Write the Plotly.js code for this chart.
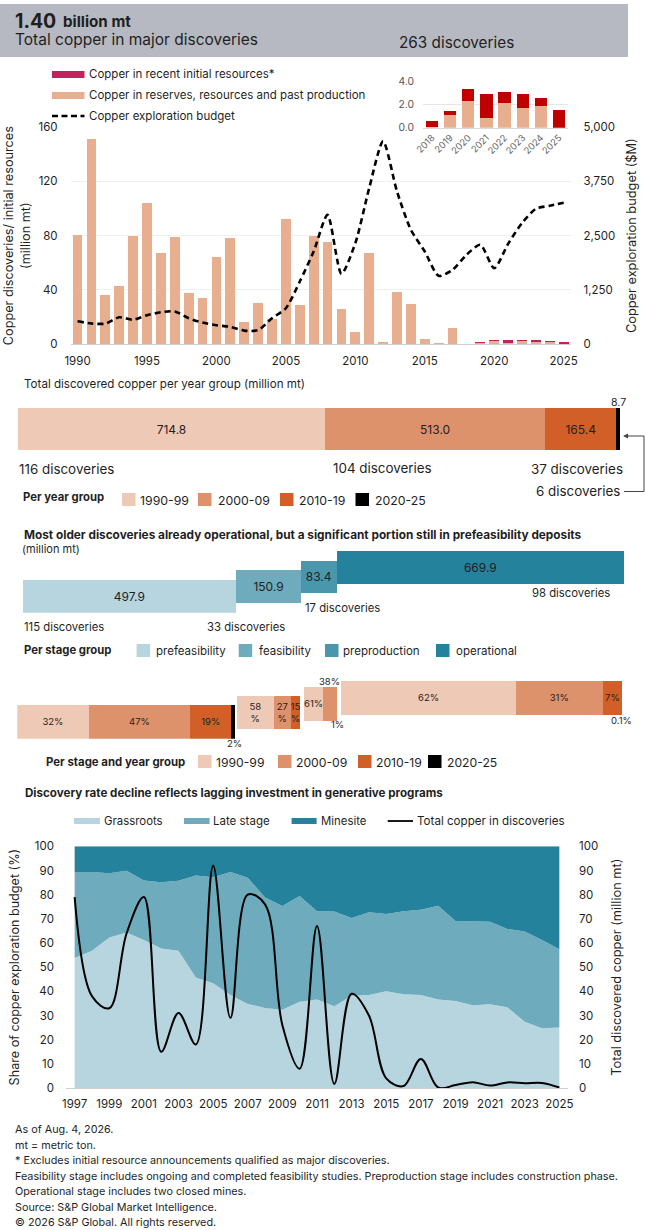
<!DOCTYPE html>
<html><head><meta charset="utf-8">
<script src="https://cdn.plot.ly/plotly-3.0.1.min.js"></script>
<style>html,body{margin:0;padding:0;background:#fff}#c{width:646px;height:1230px}</style></head>
<body><div id="c"></div>
<script>
const years=[1990,1991,1992,1993,1994,1995,1996,1997,1998,1999,2000,2001,2002,2003,2004,2005,2006,2007,2008,2009,2010,2011,2012,2013,2014,2015,2016,2017,2018,2019,2020,2021,2022,2023,2024,2025];
const reserves=[80.6,151,36.4,43.2,80,104,67.3,79,38,34,64,78.6,16.5,30.7,19,92,29,80,75.4,26.3,9,67.3,1.7,38.6,29.7,4,0.8,12,0.05,1.1,2.25,0.85,2.1,1.7,1.9,0];
const initial=[0,0,0,0,0,0,0,0,0,0,0,0,0,0,0,0,0,0,0,0,0,0,0,0,0,0,0,0,0.5,0.3,1.05,2.0,1.0,1.2,0.65,1.55];
const budget=[530,480,476,622,565,670,737,755,600,500,440,400,315,325,600,830,1444,2135,2980,1620,2327,3595,4670,3518,2635,2135,1575,1713,2058,2289,1751,2312,2788,3118,3187,3257];
const insetYears=['2018','2019','2020','2021','2022','2023','2024','2025'];
const groupNames=['1990-99','2000-09','2010-19','2020-25'];
const groupTotals=[714.8,513.0,165.4,8.7];
const groupColors=['#EEC9B6','#DE926C','#D15F27','#000000'];
const stageNames=['prefeasibility','feasibility','preproduction','operational'];
const stageTotals=[497.9,150.9,83.4,669.9];
const stageColors=['#B7D5DE','#6DABBD','#4A97AD','#25829D'];
const stageExtent=[507,147.4,77.4,653.5];
const stageGap=[3.3,8.6,9.8];
const stageRise=[0,9.5,18.15,24];
const share1990=[32.7,58.4,58.6,62];
const share2000=[46.6,26.7,40.4,31];
const share2010=[18.8,14.9,0,6.9];
const share2020=[1.9,0,1,0.1];
const label1990=['32%','58<br>%','61%','62%'];
const label2000=['47%','27<br>%','','31%'];
const label2010=['19%','15<br>%','','7%'];
const areaYears=[1997,1998,1999,2000,2001,2002,2003,2004,2005,2006,2007,2008,2009,2010,2011,2012,2013,2014,2015,2016,2017,2018,2019,2020,2021,2022,2023,2024,2025];
const grassroots=[53.8,56.8,62.3,64.3,61.2,57.7,56.8,45.7,43.3,38.5,34.8,33.1,32.4,35.7,36.6,33.8,38.2,38.5,40,38.8,38.5,36.6,36,34.2,34.6,33.4,27.4,24.7,25];
const lateStage=[35.6,32.6,26.5,25.6,24.6,27.4,28.9,42.2,43.9,50.9,52.2,45.7,42.9,43.7,36.5,39.2,32.1,34.2,32,34.3,35.3,38.8,33.1,34.9,34.2,32.4,37.3,36.5,32.4];
const minesite=[10.6,10.6,11.2,10.1,14.2,14.9,14.3,12.1,12.8,10.6,13,21.2,24.7,20.6,26.9,27,29.7,27.3,28,26.9,26.2,24.6,30.9,30.9,31.2,34.2,35.3,38.8,42.6];
const totalCopper=[79,38,33,64,79,15,31,18,92,29,80,76,26,8,67,1.7,39,30,4,0.8,12,0.2,1.2,2.4,1,2.3,2,2.1,0.2];

const F='Inter, Arial, sans-serif', W=646, H=1230, INK='#1f1f1f';
const px=x=>x/W, py=y=>1-y/H;
const dom=(a,b)=>[a/W,b/W], vdom=(top,bot)=>[1-bot/H,1-top/H];
const ann=[], shp=[];
function T(text,x,y,size,o={}){ann.push({text,x:px(x),y:py(y),xref:'paper',yref:'paper',xanchor:o.anchor||'left',yanchor:'middle',showarrow:false,borderpad:0,align:o.align||'left',font:{family:F,size,color:o.color||INK}});}
function box(x0,y0,x1,y1,color){shp.push({type:'rect',xref:'paper',yref:'paper',x0:px(x0),x1:px(x1),y0:py(y0),y1:py(y1),fillcolor:color,line:{width:0},layer:'above'});}
function seg(x0,y0,x1,y1,color,w,dash){shp.push({type:'line',xref:'paper',yref:'paper',x0:px(x0),x1:px(x1),y0:py(y0),y1:py(y1),line:{color,width:w,dash:dash||'solid'},layer:'above'});}

// header
shp.push({type:'rect',xref:'paper',yref:'paper',x0:0,x1:px(628),y0:py(57),y1:py(4),fillcolor:'#B6B9C1',line:{width:0},layer:'below'});
T('<b>1.40</b>',13.5,20.5,19.5); T('<b>billion mt</b>',62,21.5,15.2);
T('Total copper in major discoveries',14,40,15.5); T('263 discoveries',397.5,42.5,15.3);
// top legend
box(52,71,84.5,78,'#C2215B'); T('Copper in recent initial resources*',87.5,74,11.5);
box(52,92,84.5,99,'#E8AE90'); T('Copper in reserves, resources and past production',87.5,95,11.5);
seg(52,116,84.5,116,'#000',2.4,'6px,3.5px'); T('Copper exploration budget',87.5,116,11.5);
// year group
T('Total discovered copper per year group (million mt)',23,384,11.6);
T('116 discoveries',17.5,469,13.4); T('104 discoveries',331.5,468,13.4); T('37 discoveries',529.5,469,13.4); T('6 discoveries',534.5,491,13.4);
T('8.7',618,402,10.5,{anchor:'center'});
seg(624,491.5,644,491.5,'#444',1); seg(644,491.5,644,436,'#444',1); seg(644,436,628,436,'#444',1);
ann.push({x:px(623),y:py(436),xref:'paper',yref:'paper',ax:7,ay:0,text:'',showarrow:true,arrowhead:2,arrowsize:1,arrowwidth:1,arrowcolor:'#444'});
T('<b>Per year group</b>',22,497,11.3);
[[122,138.5],[198,216.5],[280,297.5],[355.5,373.5]].forEach((p,i)=>{box(p[0],493,p[0]+13.5,506,groupColors[i]);T(groupNames[i],p[1],500.5,12.3);});
// stage
T('<b>Most older discoveries already operational, but a significant portion still in prefeasibility deposits</b>',23,535,11.8);
T('(million mt)',21,549,11);
T('115 discoveries',23,626.7,11.3); T('33 discoveries',205.5,627,11.3); T('17 discoveries',303.5,607.7,11.3); T('98 discoveries',530.5,592.7,11.3);
T('<b>Per stage group</b>',22.6,650,11.3);
[[136.6,155],[238.7,258.3],[325,342.3],[436,454.5]].forEach((p,i)=>{box(p[0],644,p[0]+13.5,657,stageColors[i]);T(stageNames[i],p[1],651,11.5);});
// stage-year
T('<b>Per stage and year group</b>',45,762,11.4);
[[198,214.5],[278,294.5],[358,374.5],[428,446]].forEach((p,i)=>{box(p[0],755,p[0]+13.5,768,groupColors[i]);T(groupNames[i],p[1],762,12.2);});
T('38%',329,681.7,9.5,{anchor:'center'}); T('1%',337,724,9.5,{anchor:'center'}); T('2%',234.5,743.7,9.5,{anchor:'center'}); T('0.1%',621,720.7,9.5,{anchor:'center'});
T('<b>Discovery rate decline reflects lagging investment in generative programs</b>',23.5,793,11.6);
// area legend
box(74,818,100,824,stageColors[0]); T('Grassroots',102.5,821,11.4);
box(184,818,209.6,824,stageColors[1]); T('Late stage',212,821,11.5);
box(291.6,818,316.6,824,stageColors[3]); T('Minesite',319.5,821,11.4);
seg(387.7,821,413,821,'#000',1.8); T('Total copper in discoveries',415.5,821,11.6);
// footnotes
['As of Aug. 4, 2026.','mt = metric ton.','* Excludes initial resource announcements qualified as major discoveries.','Feasibility stage includes ongoing and completed feasibility studies. Preproduction stage includes construction phase.','Operational stage includes two closed mines.','Source: S&P Global Market Intelligence.','© 2026 S&P Global. All rights reserved.'].forEach((s,i)=>T(s,14,[1129,1145,1160.5,1176.5,1191.5,1207,1222][i],10.8));

const traces=[];
traces.push({type:'bar',x:years,y:reserves,xaxis:'x',yaxis:'y',marker:{color:'#E8AE90'},width:0.7,name:'Copper in reserves, resources and past production'});
traces.push({type:'bar',x:years,y:initial,xaxis:'x',yaxis:'y',marker:{color:'#C2215B'},width:0.7,name:'Copper in recent initial resources*'});
traces.push({type:'scatter',mode:'lines',x:years,y:budget,xaxis:'x',yaxis:'y2',line:{color:'#000',width:2.6,dash:'6px,4px',shape:'spline',smoothing:0.7},name:'Copper exploration budget'});
traces.push({type:'bar',x:insetYears,y:reserves.slice(28),xaxis:'x3',yaxis:'y3',marker:{color:'#E8AE90'},width:0.68,name:'Reserves inset'});
traces.push({type:'bar',x:insetYears,y:initial.slice(28),xaxis:'x3',yaxis:'y3',marker:{color:'#C00000'},width:0.68,name:'Initial inset'});
// year groups
let cum=0;
groupTotals.forEach((v,i)=>{traces.push({type:'bar',orientation:'h',x:[v],y:[0],base:[cum],xaxis:'x4',yaxis:'y4',marker:{color:groupColors[i]},width:1,name:groupNames[i],text:[i<3?v.toFixed(1):''],textposition:'inside',insidetextanchor:'middle',constraintext:'none',textangle:0,textfont:{family:F,size:12,color:INK}});cum+=v;});
// stages
cum=0;
stageTotals.forEach((v,i)=>{traces.push({type:'bar',orientation:'h',x:[v],y:[i],base:[cum],xaxis:'x5',yaxis:'y5',marker:{color:stageColors[i]},width:3.38,name:stageNames[i],text:[v.toFixed(1)],textposition:'inside',insidetextanchor:'middle',constraintext:'none',textangle:0,textfont:{family:F,size:12,color:INK}});cum+=v;});
// stage-year
const starts=[];let s0=0;stageExtent.forEach((w,i)=>{starts.push(s0);s0+=w+(stageGap[i]||0);});
const running=starts.slice();
[[share1990,label1990],[share2000,label2000],[share2010,label2010],[share2020,null]].forEach((pair,g)=>{
  const widths=pair[0].map((p,i)=>stageExtent[i]*p/100), base=running.slice();
  widths.forEach((w,i)=>running[i]+=w);
  traces.push({type:'bar',orientation:'h',x:widths,y:stageRise,base,xaxis:'x6',yaxis:'y6',marker:{color:groupColors[g]},width:33.7,name:groupNames[g],text:pair[1]||undefined,textposition:'inside',insidetextanchor:'middle',constraintext:'none',textangle:0,textfont:{family:F,size:9.5,color:INK}});
});
// area
[[grassroots,0,'Grassroots'],[lateStage,1,'Late stage'],[minesite,3,'Minesite']].forEach(a=>{traces.push({type:'scatter',mode:'lines',x:areaYears,y:a[0],xaxis:'x7',yaxis:'y7',stackgroup:'one',fillcolor:stageColors[a[1]],line:{width:0,color:stageColors[a[1]]},name:a[2]});});
traces.push({type:'scatter',mode:'lines',x:areaYears,y:totalCopper,xaxis:'x7',yaxis:'y8',cliponaxis:false,line:{color:'#000',width:2,shape:'spline',smoothing:1},name:'Total copper in discoveries'});

const tickF={family:F,size:11.5,color:INK};
const hidden={visible:false,fixedrange:true};
const layout={width:W,height:H,margin:{l:0,r:0,t:0,b:0,pad:0},autosize:false,paper_bgcolor:'#fff',plot_bgcolor:'rgba(0,0,0,0)',showlegend:false,barmode:'stack',font:{family:F,color:INK},annotations:ann,shapes:shp,
 xaxis:{domain:dom(70.6,570.6),range:[1989.5,2025.5],tickvals:[1990,1995,2000,2005,2010,2015,2020,2025],tickfont:tickF,showgrid:false,showline:true,linecolor:'#d0d0d0',ticks:'',anchor:'y',ticklabelstandoff:6},
 yaxis:{domain:vdom(127,344.3),range:[0,160],dtick:40,tickfont:tickF,gridcolor:'#f0f0f0',zeroline:false,ticks:'',anchor:'x',ticklabelstandoff:12,title:{text:'Copper discoveries/ initial resources<br>(million mt)',font:{family:F,size:12.7,color:INK},standoff:5}},
 yaxis2:{domain:vdom(127,344.3),range:[0,5000],dtick:1250,tickformat:',d',overlaying:'y',side:'right',anchor:'x',showgrid:false,zeroline:false,tickfont:tickF,ticklabelstandoff:12,title:{text:'Copper exploration budget ($M)',font:{family:F,size:12.8,color:INK},standoff:12}},
 xaxis3:{domain:dom(423,568),range:[-0.5,7.5],type:'category',anchor:'y3',tickangle:-45,tickfont:{family:F,size:9.3,color:'#666'},showgrid:false,showline:true,linecolor:'#d9d9d9',ticks:''},
 yaxis3:{domain:vdom(81,127.7),range:[0,4],tickvals:[0,2,4],tickformat:'.1f',anchor:'x3',tickfont:{family:F,size:10.3,color:'#555'},gridcolor:'#e6e6e6',zeroline:false,ticks:'',ticklabelstandoff:8},
 xaxis4:Object.assign({domain:dom(18,620),range:[0,1401.9],anchor:'y4'},hidden),
 yaxis4:Object.assign({domain:vdom(408,450),range:[-0.5,0.5],anchor:'x4'},hidden),
 xaxis5:Object.assign({domain:dom(22.6,624),range:[0,1402.1],anchor:'y5'},hidden),
 yaxis5:Object.assign({domain:vdom(551,612.7),range:[-1.69,4.685],anchor:'x5'},hidden),
 xaxis6:Object.assign({domain:dom(17.3,622),range:[0,1406],anchor:'y6'},hidden),
 yaxis6:Object.assign({domain:vdom(681,738.7),range:[-16.85,40.85],anchor:'x6'},hidden),
 xaxis7:{domain:dom(66,568),range:[1996.5,2025.5],tickvals:areaYears.filter((y,i)=>i%2==0),tickfont:tickF,anchor:'y7',showgrid:false,showline:true,linecolor:'#d0d0d0',ticks:'',ticklabelstandoff:5},
 yaxis7:{domain:vdom(846.3,1088),range:[0,100],dtick:10,tickfont:tickF,anchor:'x7',showgrid:false,zeroline:false,ticks:'',ticklabelstandoff:11,title:{text:'Share of copper exploration budget (%)',font:{family:F,size:12.6,color:INK},standoff:12}},
 yaxis8:{domain:vdom(846.3,1088),range:[0,100],dtick:10,tickfont:tickF,anchor:'x7',overlaying:'y7',side:'right',showgrid:false,zeroline:false,ticks:'',ticklabelstandoff:10,title:{text:'Total discovered copper (million mt)',font:{family:F,size:12.8,color:INK},standoff:14}}
};
Plotly.newPlot('c',traces,layout,{displayModeBar:false,staticPlot:true});
</script></body></html>
